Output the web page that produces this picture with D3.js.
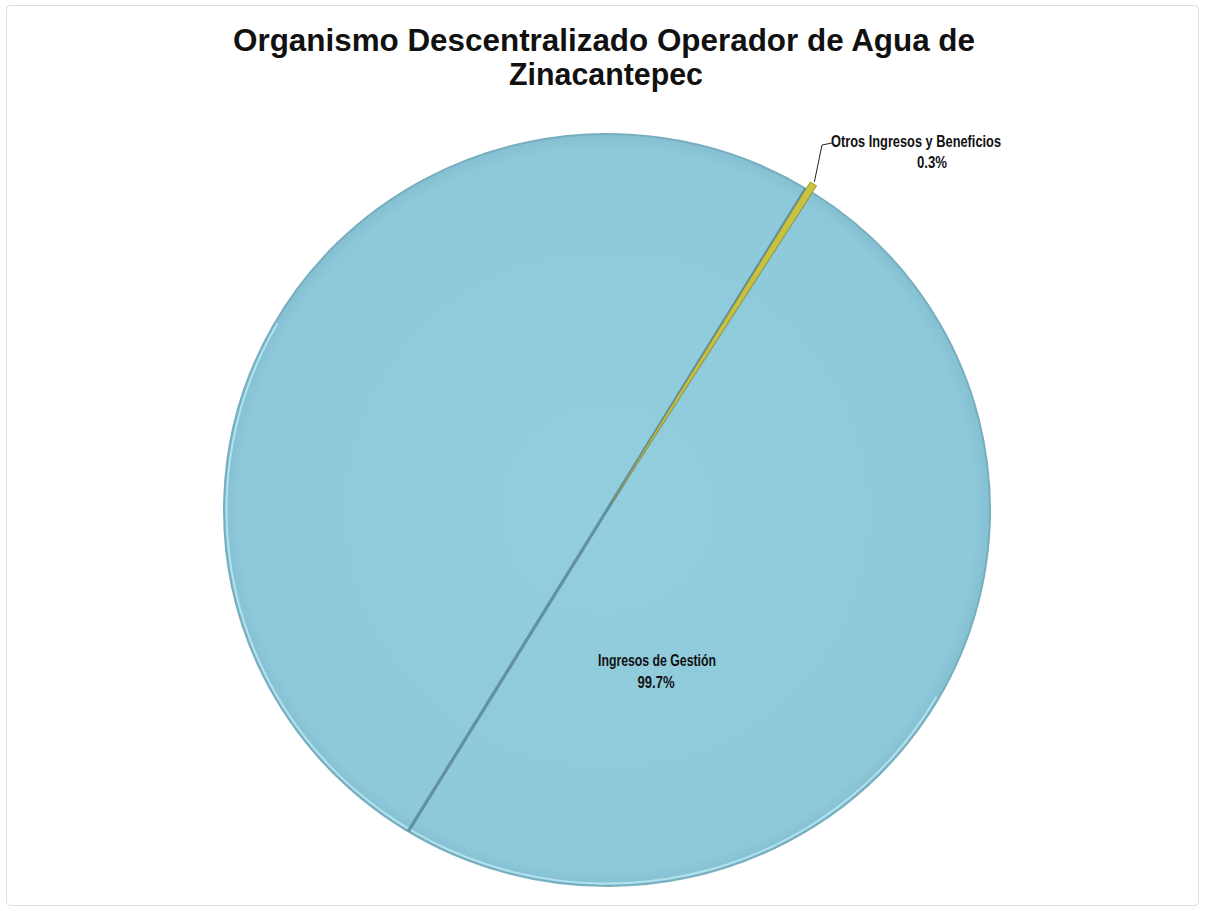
<!DOCTYPE html>
<html>
<head>
<meta charset="utf-8">
<script src="https://cdn.jsdelivr.net/npm/d3@7"></script>
<style>
  html, body { margin: 0; padding: 0; background: #ffffff; }
  svg { display: block; }
</style>
</head>
<body>
<svg id="chart" width="1205" height="911"></svg>
<script>
const categories = ["Ingresos de Gestión", "Otros Ingresos y Beneficios"];
const values = [99.7, 0.3];
const labels = ["99.7%", "0.3%"];
const colors = ["#8fcbdc", "#c9c23e"];
const titleLines = ["Organismo Descentralizado Operador de Agua de", "Zinacantepec"];

const svg = d3.select("#chart");
const cx = 607, cy = 510, rx = 383, ry = 376;
const deg = Math.PI / 180;
const startA = 32.4 * deg;

// frame
svg.append("rect").attr("x", 6.5).attr("y", 5.5).attr("width", 1192).attr("height", 900)
  .attr("rx", 4).attr("fill", "#ffffff").attr("stroke", "#dcdcdc").attr("stroke-width", 1);

// title
const title = svg.append("g").attr("font-family", "Liberation Sans, Arial, sans-serif")
  .attr("font-weight", "bold").attr("fill", "#111").attr("text-anchor", "middle");
title.append("text").attr("x", 604).attr("y", 51).attr("font-size", 32)
  .attr("textLength", 742).attr("lengthAdjust", "spacingAndGlyphs").text(titleLines[0]);
title.append("text").attr("x", 606).attr("y", 85).attr("font-size", 32)
  .attr("textLength", 194).attr("lengthAdjust", "spacingAndGlyphs").text(titleLines[1]);

const pie = d3.pie().sort(null).value(d => d)
  .startAngle(startA).endAngle(startA + 2 * Math.PI);
const arcsData = pie(values);

const defs = svg.append("defs");
const grad = defs.append("radialGradient").attr("id", "g0")
  .attr("cx", "50%").attr("cy", "50%").attr("r", "50%");
grad.append("stop").attr("offset", "0%").attr("stop-color", "#93cede");
grad.append("stop").attr("offset", "96%").attr("stop-color", "#8dc9da");
grad.append("stop").attr("offset", "100%").attr("stop-color", "#84c0d1");

const pieG = svg.append("g")
  .attr("transform", `translate(${cx},${cy}) scale(1,${ry / rx})`);

const arc = d3.arc().innerRadius(0).outerRadius(rx);
const explode = d => {
  const m = (d.startAngle + d.endAngle) / 2;
  return `translate(${8 * Math.sin(m)},${-8 * Math.cos(m)})`;
};

pieG.selectAll("path.slice").data(arcsData).enter().append("path")
  .attr("class", "slice")
  .attr("transform", (d, i) => i === 1 ? explode(d) : null)
  .attr("d", arc)
  .attr("fill", (d, i) => i === 0 ? "url(#g0)" : colors[i])
  .attr("stroke", (d, i) => i === 0 ? "#78aebf" : "#8f8a2a")
  .attr("stroke-width", (d, i) => i === 0 ? 2 : 0.8);

// light rim on lower-left
pieG.append("path")
  .attr("d", d3.arc().innerRadius(rx - 3.5).outerRadius(rx - 1.5)
    .startAngle(120 * deg).endAngle(300 * deg)())
  .attr("fill", "#b8e8f2").attr("opacity", 0.85);

// dark shaded seam along the small slice, through the centre
const o = arcsData[1];
const mid = (o.startAngle + o.endAngle) / 2 - 0.6 * deg;
pieG.append("line")
  .attr("x1", rx * Math.sin(mid)).attr("y1", -rx * Math.cos(mid))
  .attr("x2", -rx * Math.sin(mid)).attr("y2", rx * Math.cos(mid))
  .attr("stroke", "#5b8b9e").attr("stroke-width", 3.2).attr("opacity", 0.9);

// small slice on top
pieG.append("path").datum(o)
  .attr("transform", explode(o))
  .attr("d", arc).attr("fill", colors[1]).attr("stroke", "#9d972e").attr("stroke-width", 0.6);

// labels
const lab = svg.append("g").attr("font-family", "Liberation Sans Narrow, Arial Narrow, Liberation Sans, sans-serif")
  .attr("font-weight", "bold").attr("font-size", 16).attr("fill", "#111").attr("text-anchor", "middle");

const om = (o.startAngle + o.endAngle) / 2;
const ex = cx + (rx + 8) * Math.sin(om), ey = cy - (ry + 8) * Math.cos(om);
svg.append("polyline")
  .attr("points", `${ex + 1},${ey - 2} 822,145 832,143`)
  .attr("fill", "none").attr("stroke", "#222").attr("stroke-width", 1);
lab.append("text").attr("x", 916).attr("y", 147)
  .attr("textLength", 170).attr("lengthAdjust", "spacingAndGlyphs").text(categories[1]);
lab.append("text").attr("x", 932).attr("y", 168)
  .attr("textLength", 30).attr("lengthAdjust", "spacingAndGlyphs").text(labels[1]);

lab.append("text").attr("x", 657).attr("y", 666)
  .attr("textLength", 118).attr("lengthAdjust", "spacingAndGlyphs").text(categories[0]);
lab.append("text").attr("x", 656).attr("y", 688)
  .attr("textLength", 37).attr("lengthAdjust", "spacingAndGlyphs").text(labels[0]);
</script>
</body>
</html>
